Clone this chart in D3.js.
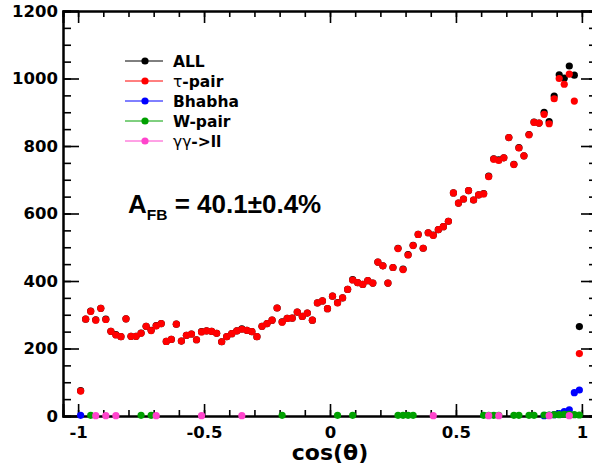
<!DOCTYPE html>
<html>
<head>
<meta charset="utf-8">
<script src="https://cdn.jsdelivr.net/npm/d3@7"></script>
<style>
  body { margin: 0; background: #fff; }
  svg { display: block; }
</style>
</head>
<body>
<div id="chart"></div>
<script>
// 100 bins in cos(theta), bin i is centred at -0.99 + 0.02 * i
const binCount = 100;

// tau-pair (red), one value per bin
const tauVals = [
  74, 287, 310, 284, 319, 286, 251, 240, 235, 288,
  236, 236, 245, 266, 253, 267, 274, 221, 227, 272,
  222, 239, 243, 226, 249, 252, 251, 245, 220, 235,
  244, 252, 257, 254, 250, 235, 266, 274, 284, 320,
  278, 289, 290, 308, 295, 305, 284, 335, 341, 318,
  355, 335, 350, 375, 403, 395, 390, 401, 394, 456,
  445, 394, 440, 496, 434, 477, 505, 538, 497, 543,
  535, 552, 561, 577, 661, 631, 643, 668, 640, 655,
  658, 709, 761, 757, 765, 825, 745, 794, 771, 833,
  870, 868, 894, 866, 940, 1000, 983, 1013, 933, 185
];

// ALL (black), one value per bin
const allVals = [
  75, 287, 311, 285, 319, 287, 251, 241, 235, 288,
  236, 236, 246, 266, 254, 268, 274, 221, 227, 272,
  222, 239, 243, 226, 250, 252, 251, 245, 220, 235,
  244, 252, 258, 254, 250, 235, 266, 274, 284, 320,
  279, 289, 290, 308, 295, 305, 284, 335, 341, 318,
  355, 336, 350, 375, 404, 395, 390, 401, 394, 456,
  445, 394, 440, 497, 435, 478, 506, 538, 497, 543,
  536, 552, 561, 577, 661, 631, 643, 668, 640, 655,
  659, 711, 762, 759, 765, 825, 746, 795, 771, 834,
  871, 868, 900, 872, 948, 1011, 1001, 1037, 1010, 265
];

// sparse series: only the filled bins are drawn
const bhabhaBins = [0, 92, 93, 94, 95, 96, 97, 98, 99];
const bhabhaVals = [2, 1, 2, 4, 7, 13, 18, 69, 77];

const wpairBins = [2, 12, 14, 40, 51, 54, 63, 64, 65, 66, 80, 81, 82, 83, 86, 87, 89, 90, 92, 93, 94, 95, 96, 97, 98, 99];
const wpairVals = [2, 2, 2, 2, 2, 2, 2, 2, 2, 2, 2, 2, 2, 2, 2, 2, 2, 2, 3, 3, 4, 4, 5, 5, 4, 3];

const ggBins = [3, 5, 7, 15, 24, 32, 70, 81, 83, 93, 97];
const ggVals = [1, 1, 1, 1, 1, 1, 1, 1, 1, 1, 1];

const xTicks = [-1, -0.5, 0, 0.5, 1];
const yTicks = [0, 200, 400, 600, 800, 1000, 1200];

const width = 592;
const height = 468;
const frame = { left: 63, right: 597, top: 11, bottom: 416 };

const svg = d3.select("#chart").append("svg")
  .attr("width", width)
  .attr("height", height);

const x = d3.scaleLinear().domain([-1.06, 1.06]).range([frame.left, frame.right]);
const y = d3.scaleLinear().domain([0, 1200]).range([frame.bottom, frame.top]);

const binCenter = i => -0.99 + 0.02 * i;

// axes: major + minor ticks on all four sides, pointing inwards
const tickFont = "'DejaVu Sans', sans-serif";
const xMinor = d3.range(-10, 11).map(d => d / 10);
const yMinor = d3.range(0, 1201, 50);

function styleAxis(g) {
  g.select(".domain").attr("stroke", "#000").attr("stroke-width", 2);
  g.selectAll(".tick line").attr("stroke", "#000").attr("stroke-width", 1.6);
  g.selectAll("text")
    .attr("fill", "#000")
    .style("font-family", tickFont)
    .style("font-weight", "bold")
    .style("font-size", "16.5px");
}

// bottom
svg.append("g")
  .attr("transform", `translate(0,${frame.bottom})`)
  .call(d3.axisBottom(x).tickValues(xMinor).tickSize(-6).tickFormat(""))
  .call(styleAxis);
svg.append("g")
  .attr("transform", `translate(0,${frame.bottom})`)
  .call(d3.axisBottom(x).tickValues(xTicks).tickSize(-12).tickPadding(10).tickFormat(d => String(d)))
  .call(styleAxis);

// top
svg.append("g")
  .attr("transform", `translate(0,${frame.top})`)
  .call(d3.axisTop(x).tickValues(xMinor).tickSize(-6).tickFormat(""))
  .call(styleAxis);
svg.append("g")
  .attr("transform", `translate(0,${frame.top})`)
  .call(d3.axisTop(x).tickValues(xTicks).tickSize(-12).tickFormat(""))
  .call(styleAxis);

// left
svg.append("g")
  .attr("transform", `translate(${frame.left},0)`)
  .call(d3.axisLeft(y).tickValues(yMinor).tickSize(-8).tickFormat(""))
  .call(styleAxis);
svg.append("g")
  .attr("transform", `translate(${frame.left},0)`)
  .call(d3.axisLeft(y).tickValues(yTicks).tickSize(-16).tickPadding(5).tickFormat(d => String(d)))
  .call(styleAxis);

// right (the frame itself sits just past the picture edge)
svg.append("g")
  .attr("transform", `translate(${frame.right},0)`)
  .call(d3.axisRight(y).tickValues(yMinor).tickSize(-8).tickFormat(""))
  .call(styleAxis);
svg.append("g")
  .attr("transform", `translate(${frame.right},0)`)
  .call(d3.axisRight(y).tickValues(yTicks).tickSize(-16).tickFormat(""))
  .call(styleAxis);

// x axis title
svg.append("text")
  .attr("x", x(0))
  .attr("y", 460)
  .attr("text-anchor", "middle")
  .style("font-family", tickFont)
  .style("font-weight", "bold")
  .style("font-size", "22px")
  .text("cos(θ)");

// markers
const r = 3.6;

function drawPoints(bins, vals, color) {
  svg.append("g")
    .selectAll("circle")
    .data(bins.map((b, k) => ({ b, v: vals[k] })))
    .join("circle")
    .attr("cx", d => x(binCenter(d.b)))
    .attr("cy", d => y(d.v))
    .attr("r", r)
    .attr("fill", color);
}

const allBins = d3.range(binCount);
drawPoints(allBins, allVals, "#000");
drawPoints(allBins, tauVals, "#ff0000");
drawPoints(bhabhaBins, bhabhaVals, "#0000ff");
drawPoints(wpairBins, wpairVals, "#00a000");
drawPoints(ggBins, ggVals, "#ff44cc");

// legend
const legendItems = [
  { color: "#000", parts: [["ALL", "bold"]] },
  { color: "#ff0000", parts: [["τ", "normal"], ["-pair", "bold"]] },
  { color: "#0000ff", parts: [["Bhabha", "bold"]] },
  { color: "#00a000", parts: [["W-pair", "bold"]] },
  { color: "#ff44cc", parts: [["γγ", "normal"], ["->ll", "bold"]] }
];

legendItems.forEach((item, i) => {
  const ly = 61 + i * 20;
  svg.append("line")
    .attr("x1", 125).attr("x2", 163)
    .attr("y1", ly).attr("y2", ly)
    .attr("stroke", item.color)
    .attr("stroke-width", 1);
  svg.append("circle")
    .attr("cx", 145).attr("cy", ly)
    .attr("r", r)
    .attr("fill", item.color);
  const t = svg.append("text")
    .attr("x", 173)
    .attr("y", ly)
    .attr("dy", "0.36em")
    .style("font-family", tickFont)
    .style("font-size", "15.5px");
  item.parts.forEach(([s, w]) => {
    t.append("tspan").style("font-weight", w).text(s);
  });
});

// asymmetry label
const afb = svg.append("text")
  .attr("x", 128)
  .attr("y", 213)
  .style("font-family", "'Liberation Sans', Arial, sans-serif")
  .style("font-weight", "bold")
  .style("font-size", "26px");
afb.append("tspan").text("A");
afb.append("tspan").attr("dy", 7).style("font-size", "15.5px").text("FB");
afb.append("tspan").attr("dy", -7).text(" = 40.1±0.4%");
</script>
</body>
</html>
